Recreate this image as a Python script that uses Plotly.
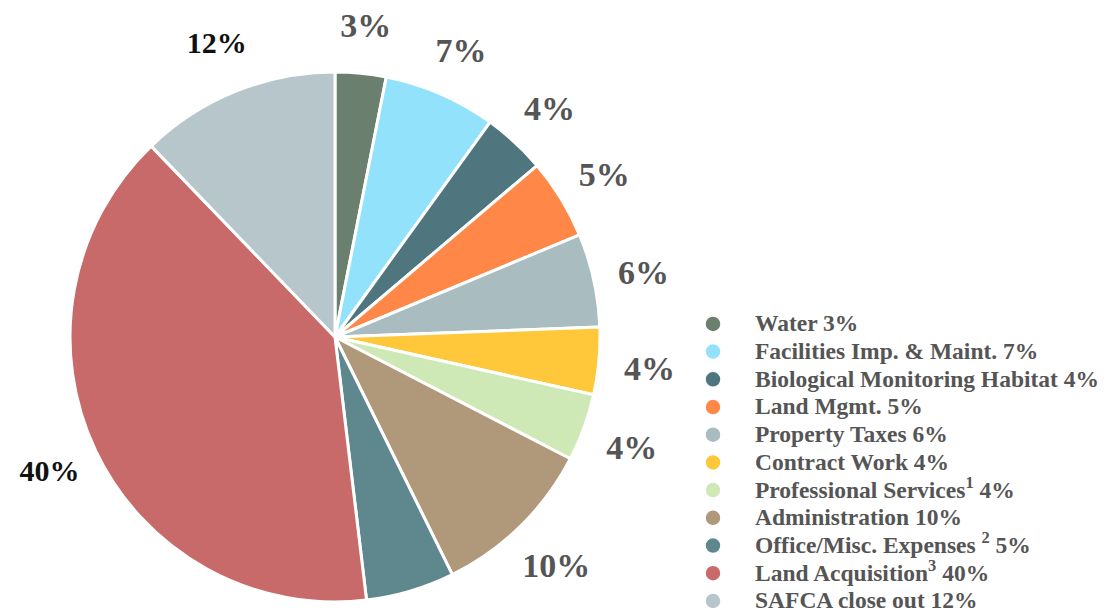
import math
import plotly.graph_objects as go

# ---- data ----
categories = ["Water", "Facilities Imp. & Maint.", "Biological Monitoring Habitat",
              "Land Mgmt.", "Property Taxes", "Contract Work",
              "Professional Services<sup>1</sup>", "Administration",
              "Office/Misc. Expenses <sup>2</sup>", "Land Acquisition<sup>3</sup>",
              "SAFCA close out"]
values = [3.1, 6.85, 3.85, 4.9, 5.7, 4.1, 4.1, 10.1, 5.4, 39.7, 12.2]
pct_labels = [3, 7, 4, 5, 6, 4, 4, 10, 5, 40, 12]
colors = ["#6B7F6E", "#93E2FB", "#4F767E", "#FF8848", "#A9BCC0", "#FFC83A",
          "#CEE8B6", "#B0997A", "#5E888E", "#C86A6A", "#B7C6CB"]
dark_label = [False] * 9 + [True, True]   # the two labels drawn in black

# ---- styles / layout geometry (figure pixels) ----
W, H = 1110, 610
cx, cy, R = 327, 329, 265          # pie centre / radius
LABEL_R = 1.192                    # label distance in pie radii
GRAY_STYLE = dict(color="#555555", size=34, dy=6)
DARK_STYLE = dict(color="#111111", size=30, dy=1)
dom_x = [(cx - R) / W, (cx + R) / W]
dom_y = [(H - cy - R) / H, (H - cy + R) / H]

fig = go.Figure()
fig.add_trace(go.Pie(
    values=values, labels=categories, sort=False, direction="clockwise", rotation=0,
    marker=dict(colors=colors, line=dict(color="white", width=3)),
    textinfo="none", showlegend=False, domain=dict(x=dom_x, y=dom_y),
    hoverinfo="label+percent",
))

# percentage labels: placed on hidden axes whose unit is one pie radius
total = sum(values)
lx, ly, lcol, lsize = [], [], [], []
cum = 0
for v, dark in zip(values, dark_label):
    st = DARK_STYLE if dark else GRAY_STYLE
    a = math.radians((cum + v / 2) / total * 360)
    lx.append(LABEL_R * math.sin(a))
    ly.append(LABEL_R * math.cos(a) - st["dy"] / R)
    lcol.append(st["color"])
    lsize.append(st["size"])
    cum += v
fig.add_trace(go.Scatter(
    x=lx, y=ly, mode="text", text=[f"{p}%" for p in pct_labels],
    textposition="middle center",
    textfont=dict(family="Liberation Serif", size=lsize, color=lcol, weight="bold"),
    showlegend=False, hoverinfo="skip",
))

LEG_BASE = 19
for name, p, c in zip(categories, pct_labels, colors):
    fig.add_trace(go.Scatter(
        x=[None], y=[None], mode="markers",
        name=f'<span style="font-size:23.5px">{name} {p}%</span>',
        marker=dict(symbol="circle", size=16, color=c, line=dict(color="white", width=1.5)),
    ))

fig.update_layout(
    width=W, height=H, margin=dict(l=0, r=0, t=0, b=0, autoexpand=False),
    paper_bgcolor="white", plot_bgcolor="rgba(0,0,0,0)",
    xaxis=dict(visible=False, domain=[0, 1], range=[-cx / R, (W - cx) / R], fixedrange=True),
    yaxis=dict(visible=False, domain=[0, 1], range=[-(H - cy) / R, cy / R], fixedrange=True),
    legend=dict(x=0.5973, y=0.513, xanchor="left", yanchor="top",
                font=dict(family="Liberation Serif", size=LEG_BASE, color="#555555", weight="bold"),
                bgcolor="rgba(0,0,0,0)", itemwidth=74),
    showlegend=True,
)

fig.write_html("out.html")
